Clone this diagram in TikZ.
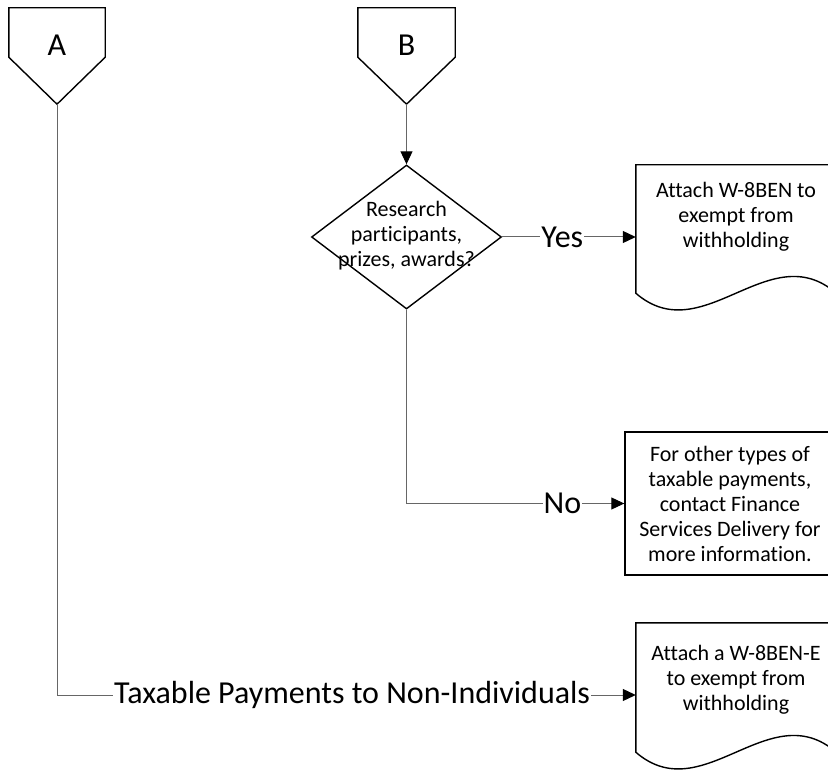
\documentclass[tikz,border=0pt]{standalone}
\usepackage{fontspec}
\setmainfont{Carlito}[Ligatures=NoCommon]
\usetikzlibrary{arrows.meta,shapes.geometric}
\begin{document}
\begin{tikzpicture}[x=1pt,y=-1pt,
  shapeline/.style={draw=black,line width=1.4pt},
  conn/.style={draw=black!60,line width=1pt},
  arr/.style={-{Triangle[length=13pt,width=12pt,fill=black,color=black]}},
  big/.style={font=\fontsize{32}{38}\selectfont},
  small/.style={font=\fontsize{22}{25}\selectfont, align=center},
  lbl/.style={big, fill=white, inner sep=1pt},
]
\useasboundingbox (0,0) rectangle (828,770);
\clip (0,0) rectangle (828,770);

% off-page connectors
\node[minimum width=96, minimum height=96, inner sep=0] (A) at (57,56) {};
\draw[shapeline] (A.north west) -- (A.north east) -- ([yshift=47pt]A.south east) -- (A.south) -- ([yshift=47pt]A.south west) -- cycle;
\node[big] (Atext) at ([yshift=11pt]A.center) {A};

\node[minimum width=97, minimum height=96, inner sep=0] (B) at (406.5,56) {};
\draw[shapeline] (B.north west) -- (B.north east) -- ([yshift=47pt]B.south east) -- (B.south) -- ([yshift=47pt]B.south west) -- cycle;
\node[big] (Btext) at ([yshift=11pt]B.center) {B};

% decision
\node[diamond, shapeline, minimum width=190, minimum height=144, inner sep=0] (dec) at (406.5,237) {};
\node[small] (dectext) at (406.5,236) {Research\\participants,\\prizes, awards?};

% document 1
\node[small, minimum width=200, minimum height=104, inner sep=0] (doc1) at (736,217) {Attach W-8BEN to\\exempt from\\withholding};
\draw[shapeline] ([yshift=-24pt]doc1.south east) -- (doc1.north east) -- (doc1.north west) -- ([yshift=-24pt]doc1.south west) .. controls +(67,58) and +(-67,-58) .. ([yshift=-24pt]doc1.south east);

% box 2
\node[small, shapeline, minimum width=210, minimum height=143, inner sep=0] (box2) at (730,503.5) {For other types of\\taxable payments,\\contact Finance\\Services Delivery for\\more information.};

% document 3
\node[small, minimum width=200, minimum height=114, inner sep=0] (doc3) at (736,680) {Attach a W-8BEN-E\\to exempt from\\withholding};
\draw[shapeline] ([yshift=-15pt]doc3.south east) -- (doc3.north east) -- (doc3.north west) -- ([yshift=-15pt]doc3.south west) .. controls +(67,58) and +(-67,-58) .. ([yshift=-15pt]doc3.south east);

% connectors
\draw[conn, arr] (B.south) -- (dec.north);
\draw[conn, arr] (dec.east) -- node[lbl, pos=0.45] (yes) {Yes} (dec.east -| doc1.west);
\coordinate (noturn) at (dec.south |- box2.west);
\draw[conn] (dec.south) -- (noturn);
\draw[conn, arr] (noturn) -- node[lbl, pos=0.716] (no) {No} (box2.west);
\coordinate (Aturn) at (57,695);
\draw[conn] (A.south) -- (Aturn);
\draw[conn, arr] (Aturn) -- node[lbl, pos=0.51] (tax) {Taxable Payments to Non-Individuals} (Aturn -| doc3.west);
\end{tikzpicture}
\end{document}
